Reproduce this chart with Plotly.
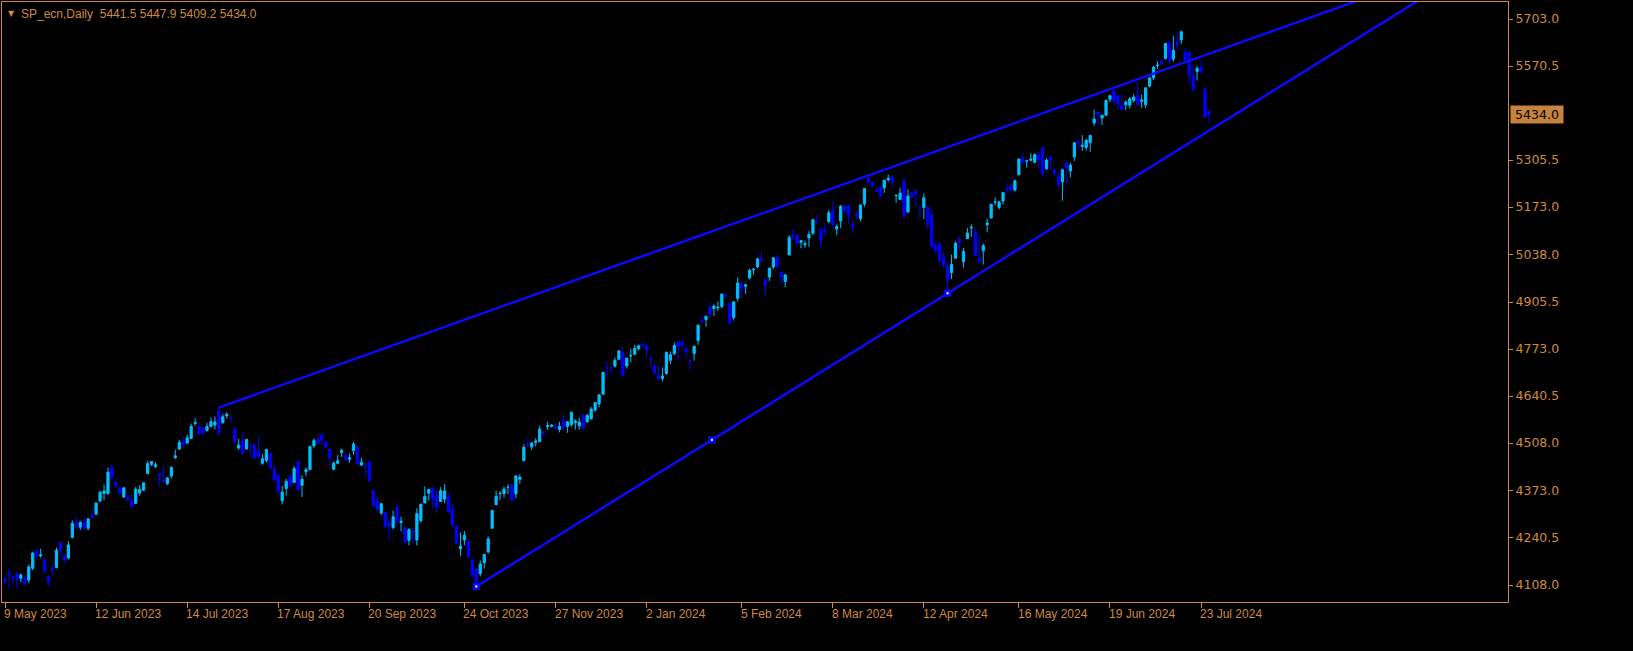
import plotly.graph_objects as go

# ---------------- data ----------------
opens = [
    4124,4143,4132,4139,4127,4128,4122,4155,4204,4190,4177,4133,4155,4157,4227,4191,
    4184,4242,4283,4271,4285,4268,4304,4308,4345,4366,4366,4440,4397,4381,4356,4355,4344,4338,4367,4375,4422,
    4448,4442,4423,4404,4394,4415,4467,4491,4514,4508,4521,4563,4555,4550,4543,4555,4559,4599,4565,4585,
    4578,4550,4494,4514,4491,4499,4502,4487,4451,4459,4479,4433,4416,4345,4380,4416,4397,4455,4389,4427,4433,4500,4518,
    4530,4510,4491,4434,4451,4481,4473,4462,4487,4498,4446,4445,4454,4375,4342,4311,4313,4283,4270,4328,
    4284,4270,4234,4260,4235,4289,4339,4367,4380,4361,4343,4350,4358,4322,4273,4210,4235,4232,4176,4152,4140,4171,
    4201,4268,4334,4365,4365,4383,4391,4365,4406,4458,4505,4497,4510,4512,4539,4554,4555,4555,4546,4572,4555,
    4560,4565,4557,4586,4568,4576,4601,4618,4646,4721,4720,4725,4744,4764,4725,4753,4758,4774,4786,4783,
    4745,4726,4698,4690,4704,4741,4760,4793,4792,4773,4739,4760,4797,4853,4856,4889,4887,4889,4893,4925,4900,
    4862,4916,4957,4950,4973,4996,5004,5027,4968,4976,5004,5032,4990,4963,5038,5094,5094,5074,5067,5086,
    5099,5131,5110,5109,5132,5164,5111,5134,5174,5176,5124,5154,5140,5182,5253,5243,5220,5228,5227,5250,
    5258,5205,5194,5244,5159,5212,5217,5161,5172,5172,5150,5065,5069,5032,5005,4988,5029,5084,5019,5084,5114,5103,
    5029,5050,5123,5142,5187,5172,5190,5226,5234,5221,5264,5311,5303,5305,5299,5320,5341,5281,5315,5278,5260,5244,
    5298,5275,5314,5358,5344,5341,5354,5410,5441,5424,5432,5477,5500,5486,5460,5461,5460,5474,5488,
    5471,5461,5514,5537,5572,5584,5592,5635,5590,5638,5644,5610,5608,5543,5555,5566,5506,5441.5,
]
highs = [
    4131,4155,4133,4143,4141,4135,4165,4202,4212,4210,4186,4133,4166,4213,4231,4196,
    4232,4290,4300,4289,4300,4298,4322,4340,4375,4391,4439,4448,4408,4387,4382,4366,4363,4385,4390,4398,4458,
    4457,4454,4423,4441,4412,4443,4489,4517,4528,4532,4563,4578,4565,4555,4565,4580,4583,4608,4590,4595,
    4585,4550,4520,4540,4519,4504,4503,4527,4477,4490,4479,4450,4421,4387,4407,4418,4443,4459,4418,4439,4501,4521,4532,
    4541,4514,4491,4457,4474,4491,4476,4479,4511,4498,4466,4452,4462,4375,4357,4339,4314,4293,4318,4334,
    4300,4274,4268,4268,4324,4336,4386,4379,4385,4378,4384,4393,4368,4340,4276,4256,4260,4232,4183,4156,4177,4195,
    4245,4320,4374,4373,4386,4392,4393,4418,4421,4505,4521,4511,4521,4557,4542,4568,4560,4562,4568,4587,4570,
    4595,4575,4579,4590,4590,4610,4623,4644,4709,4739,4725,4749,4769,4779,4749,4773,4785,4785,4794,4788,
    4755,4730,4727,4721,4765,4766,4791,4798,4802,4783,4745,4782,4843,4868,4867,4903,4899,4907,4929,4932,4907,
    4907,4975,4963,4957,4999,5001,5030,5048,4975,5002,5032,5039,4994,4983,5094,5111,5097,5081,5077,5105,
    5140,5149,5114,5128,5165,5190,5124,5179,5180,5180,5136,5164,5180,5225,5262,5246,5230,5236,5249,5265,
    5264,5209,5228,5257,5223,5220,5225,5178,5211,5176,5168,5076,5077,5049,5019,5039,5076,5089,5058,5114,5124,5111,
    5096,5070,5140,5181,5200,5191,5214,5240,5238,5250,5311,5325,5306,5325,5324,5329,5342,5311,5315,5282,5270,5281,
    5302,5298,5356,5362,5376,5366,5376,5448,5441,5433,5477,5489,5506,5490,5490,5473,5483,5491,5524,
    5490,5510,5539,5571,5584,5591,5636,5642,5655,5666,5670,5622,5615,5572,5570,5586,5508,5447.9,
]
lows = [
    4110,4098,4110,4099,4116,4109,4114,4150,4181,4185,4142,4104,4133,4155,4192,4166,
    4181,4242,4264,4262,4264,4262,4292,4304,4341,4346,4362,4408,4381,4361,4353,4342,4328,4336,4360,4372,4422,
    4443,4437,4385,4398,4389,4408,4463,4489,4494,4505,4519,4557,4528,4532,4541,4552,4547,4529,4563,4577,
    4566,4505,4489,4475,4491,4464,4461,4457,4447,4453,4433,4403,4364,4335,4360,4382,4397,4375,4356,4414,4431,4493,4507,
    4501,4493,4443,4431,4448,4469,4456,4453,4475,4447,4443,4417,4402,4329,4317,4305,4266,4238,4264,4275,
    4260,4221,4220,4226,4219,4284,4339,4346,4325,4311,4343,4338,4311,4270,4224,4190,4220,4182,4127,4104,4132,4154,
    4197,4268,4334,4347,4354,4364,4343,4353,4393,4458,4496,4488,4499,4511,4526,4545,4552,4546,4538,4547,4537,
    4554,4546,4546,4547,4565,4575,4596,4609,4643,4694,4705,4721,4744,4697,4718,4736,4758,4768,4780,4751,
    4722,4699,4687,4682,4700,4730,4756,4740,4769,4747,4715,4740,4785,4845,4835,4865,4866,4881,4887,4917,4845,
    4853,4907,4919,4928,4969,4982,5001,5017,4920,4965,4999,4999,4954,4947,5038,5081,5068,5057,5058,5061,
    5094,5127,5056,5092,5128,5114,5094,5114,5155,5127,5104,5138,5132,5174,5240,5230,5216,5203,5213,5245,
    5229,5185,5194,5146,5157,5197,5175,5138,5139,5108,5052,5041,5008,5001,4930,4970,5027,5048,5002,5084,5089,5035,
    5013,5011,5102,5142,5178,5166,5180,5213,5211,5217,5263,5296,5284,5302,5297,5281,5257,5278,5278,5262,5225,5191,
    5235,5257,5303,5335,5331,5332,5328,5402,5403,5404,5429,5469,5459,5446,5447,5446,5451,5468,5460,
    5452,5452,5510,5531,5563,5571,5589,5576,5583,5615,5632,5584,5523,5497,5530,5550,5424,5409.2,
]
closes = [
    4119,4138,4131,4124,4136,4110,4159,4198,4192,4193,4146,4115,4151,4206,4206,4180,
    4221,4282,4274,4284,4268,4294,4299,4339,4369,4373,4426,4410,4389,4366,4382,4348,4329,4378,4377,4396,4450,
    4456,4447,4412,4399,4410,4439,4472,4510,4505,4523,4555,4566,4535,4536,4555,4568,4567,4537,4582,4589,
    4577,4513,4502,4478,4518,4499,4468,4469,4464,4490,4438,4404,4370,4370,4400,4388,4436,4376,4406,4433,4498,4515,4508,
    4516,4497,4466,4451,4458,4488,4462,4467,4505,4450,4454,4444,4402,4330,4320,4337,4274,4275,4300,4288,
    4288,4229,4264,4258,4309,4336,4358,4377,4350,4328,4374,4373,4315,4278,4224,4217,4248,4187,4137,4117,4167,4194,
    4238,4318,4358,4366,4378,4383,4347,4415,4412,4496,4503,4508,4514,4547,4538,4557,4559,4550,4555,4551,4568,
    4595,4570,4567,4549,4586,4604,4622,4644,4707,4720,4719,4741,4768,4698,4747,4755,4775,4782,4783,4770,
    4743,4705,4689,4697,4764,4757,4783,4780,4784,4766,4739,4781,4840,4850,4865,4869,4894,4891,4928,4925,4846,
    4906,4959,4943,4954,4995,4998,5027,5022,4953,5001,5030,5006,4976,4982,5087,5089,5070,5078,5070,5096,
    5137,5131,5079,5105,5157,5124,5118,5175,5165,5150,5117,5149,5179,5225,5242,5234,5218,5204,5249,5254,
    5244,5206,5212,5147,5204,5202,5210,5161,5199,5123,5062,5051,5022,5011,4967,5011,5071,5072,5048,5100,5116,5036,
    5018,5064,5128,5181,5188,5187,5214,5223,5221,5247,5308,5297,5303,5308,5321,5307,5268,5305,5306,5267,5236,5278,
    5283,5291,5354,5353,5347,5361,5375,5421,5434,5432,5473,5487,5473,5465,5448,5469,5478,5483,5461,
    5475,5509,5537,5567,5573,5577,5634,5585,5615,5631,5667,5588,5545,5505,5564,5556,5427,5434.0,
]
assert len(opens) == len(highs) == len(lows) == len(closes), (len(opens), len(highs), len(lows), len(closes))

bar_index = list(range(len(closes)))

date_labels = ["9 May 2023", "12 Jun 2023", "14 Jul 2023", "17 Aug 2023", "20 Sep 2023",
               "24 Oct 2023", "27 Nov 2023", "2 Jan 2024", "5 Feb 2024", "8 Mar 2024",
               "12 Apr 2024", "16 May 2024", "19 Jun 2024", "23 Jul 2024"]
date_label_bars = [0, 23, 46, 69, 92, 116, 139, 162, 186, 209, 232, 256, 279, 302]

price_ticks = [5703.0, 5570.5, 5305.5, 5173.0, 5038.0, 4905.5, 4773.0,
               4640.5, 4508.0, 4373.0, 4240.5, 4108.0]

upper_line_bars = [54, 218]
upper_line_prices = [4608, 5262]
lower_line_bars = [119, 238]
lower_line_prices = [4104, 4930]

symbol_name = "SP_ecn,Daily"

# ---------------- style ----------------
FG = "#cf8a3e"
BOX = "#c8823c"
UP = "#00bfff"
DN = "#0000ff"
LINE = "#0a0aff"
FONT = "Liberation Sans"
AXFONT = "DejaVu Sans"

fig = go.Figure()
fig.add_trace(go.Candlestick(
    x=bar_index, open=opens, high=highs, low=lows, close=closes,
    increasing=dict(line=dict(color=UP, width=1), fillcolor=UP),
    decreasing=dict(line=dict(color=DN, width=1), fillcolor=DN),
    whiskerwidth=0, showlegend=False, hoverinfo="skip",
))

X_END = 420


def extend(bars, prices):
    slope = (prices[1] - prices[0]) / (bars[1] - bars[0])
    return [bars[0], X_END], [prices[0], prices[0] + slope * (X_END - bars[0])]


ux, uy = extend(upper_line_bars, upper_line_prices)
lx, ly = extend(lower_line_bars, lower_line_prices)
for xs, ys in ((ux, uy), (lx, ly)):
    fig.add_trace(go.Scatter(x=xs, y=ys, mode="lines", line=dict(color=LINE, width=2.5),
                             showlegend=False, hoverinfo="skip"))

mid_bar = (lower_line_bars[0] + lower_line_bars[1]) / 2
mid_price = (lower_line_prices[0] + lower_line_prices[1]) / 2
mx = [lower_line_bars[0], mid_bar, lower_line_bars[1]]
my = [lower_line_prices[0], mid_price, lower_line_prices[1]]
fig.add_trace(go.Scatter(x=mx, y=my, mode="markers",
                         marker=dict(symbol="square", size=7, color=LINE),
                         showlegend=False, hoverinfo="skip"))
fig.add_trace(go.Scatter(x=mx, y=my, mode="markers",
                         marker=dict(symbol="square", size=2, color="white"),
                         showlegend=False, hoverinfo="skip"))

annotations = []
for b, t in zip(date_label_bars, date_labels):
    annotations.append(dict(x=b, xref="x", y=0, yref="paper", yanchor="top", xanchor="left",
                            yshift=-3, xshift=-3, text=t, showarrow=False,
                            font=dict(family=FONT, size=12, color=FG)))

last = len(closes) - 1
header = f"{symbol_name}  {opens[last]:.1f} {highs[last]:.1f} {lows[last]:.1f} {closes[last]:.1f}"
annotations.append(dict(x=0, xref="paper", y=1, yref="paper", xanchor="left", yanchor="top",
                        xshift=17, yshift=-3, text=header, showarrow=False,
                        font=dict(family=FONT, size=12, color=FG)))
annotations.append(dict(x=0, xref="paper", y=1, yref="paper", xanchor="left", yanchor="top",
                        xshift=4, yshift=-5, text="▼", showarrow=False,
                        font=dict(family="DejaVu Sans", size=8, color=FG)))
annotations.append(dict(x=1, xref="paper", y=closes[last], yref="y", xanchor="left", yanchor="middle",
                        xshift=2, text=f"{closes[last]:.1f}", showarrow=False, bgcolor=BOX,
                        width=50, align="center", borderpad=1,
                        font=dict(family=AXFONT, size=12.5, color="#000000")))

fig.update_layout(
    width=1633, height=651,
    paper_bgcolor="black", plot_bgcolor="black",
    margin=dict(l=2, r=125, t=2, b=49, pad=0),
    showlegend=False,
    boxgap=0.2,
    annotations=annotations,
    xaxis=dict(range=[-0.76, 379.5], showgrid=False, zeroline=False,
               showline=True, linecolor=FG, linewidth=1, mirror=True,
               ticks="outside", tickvals=date_label_bars, ticklen=5, tickcolor=FG,
               showticklabels=False, rangeslider=dict(visible=False), fixedrange=True),
    yaxis=dict(range=[4060.1, 5750.9], side="right", showgrid=False, zeroline=False,
               showline=True, linecolor=FG, linewidth=1, mirror=True,
               ticks="outside", ticklen=4, tickcolor=FG,
               tickvals=price_ticks, ticktext=[f"{v:.1f}" for v in price_ticks],
               tickfont=dict(family=AXFONT, size=12.5, color=FG), fixedrange=True),
)

fig.write_html(
    "out.html",
    config={"displayModeBar": False},
    post_script="document.body.style.margin='0';document.body.style.background='black';",
)
